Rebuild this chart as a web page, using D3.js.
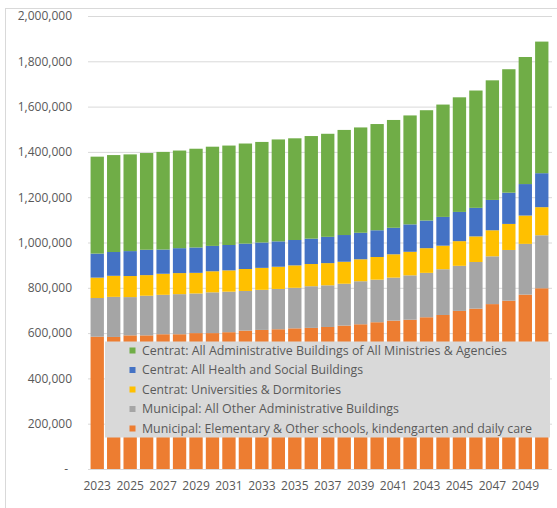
<!DOCTYPE html>
<html>
<head>
<meta charset="utf-8">
<script src="https://cdn.jsdelivr.net/npm/d3@7"></script>
<style>
  body { margin: 0; background: #fff; }
  svg { display: block; }
  text { font-family: "Open Sans", "Noto Sans", sans-serif; fill: #595959; }
</style>
</head>
<body>
<svg id="chart" width="557" height="508"></svg>
<script>
// Floor area per building group, 2023–2050 (m²)
const years = [2023, 2024, 2025, 2026, 2027, 2028, 2029, 2030, 2031, 2032, 2033, 2034, 2035, 2036,
               2037, 2038, 2039, 2040, 2041, 2042, 2043, 2044, 2045, 2046, 2047, 2048, 2049, 2050];

const municipalSchools = [584000, 583000, 590000, 590000, 595000, 595000, 600000, 600000, 604000, 611000,
                          614000, 617000, 621000, 623000, 627000, 633000, 639000, 648000, 655000, 659000,
                          670000, 680000, 698000, 708000, 728000, 743000, 770000, 798000];
const municipalAdmin = [171000, 177000, 169000, 175000, 174000, 177000, 175000, 180000, 179000, 175000,
                        177000, 178000, 179000, 184000, 184000, 185000, 190000, 188000, 190000, 196000,
                        196000, 202000, 199000, 206000, 211000, 224000, 224000, 234000];
const centralUniversities = [90000, 93000, 93000, 91000, 93000, 93000, 91000, 93000, 94000, 97000,
                             97000, 98000, 99000, 98000, 98000, 97000, 97000, 100000, 103000, 104000,
                             109000, 104000, 109000, 113000, 115000, 115000, 125000, 124000];
const centralHealth = [106000, 105000, 110000, 112000, 107000, 110000, 112000, 112000, 112000, 112000,
                       112000, 112000, 112000, 112000, 116000, 118000, 117000, 118000, 117000, 121000,
                       122000, 127000, 129000, 126000, 134000, 138000, 139000, 150000];
const centralAdmin = [428000, 428000, 427000, 427000, 431000, 431000, 436000, 438000, 439000, 442000,
                      444000, 450000, 449000, 453000, 455000, 464000, 465000, 469000, 476000, 481000,
                      487000, 496000, 506000, 518000, 528000, 545000, 561000, 581000];

const yTicks = [0, 200000, 400000, 600000, 800000, 1000000, 1200000, 1400000, 1600000, 1800000, 2000000];
const xTickYears = [2023, 2025, 2027, 2029, 2031, 2033, 2035, 2037, 2039, 2041, 2043, 2045, 2047, 2049];

// Series from bottom of the stack to the top
const seriesKeys = ["municipalSchools", "municipalAdmin", "centralUniversities", "centralHealth", "centralAdmin"];
const seriesLabels = {
  centralAdmin: "Centrat: All Administrative Buildings of All Ministries & Agencies",
  centralHealth: "Centrat: All Health and Social Buildings",
  centralUniversities: "Centrat: Universities & Dormitories",
  municipalAdmin: "Municipal: All Other Administrative Buildings",
  municipalSchools: "Municipal: Elementary & Other schools, kindengarten and daily care"
};
const seriesColors = {
  municipalSchools: "#ED7D31",
  municipalAdmin: "#A5A5A5",
  centralUniversities: "#FFC000",
  centralHealth: "#4472C4",
  centralAdmin: "#70AD47"
};
const legendOrder = ["centralAdmin", "centralHealth", "centralUniversities", "municipalAdmin", "municipalSchools"];
const legendWidths = { centralAdmin: 365, centralHealth: 221, centralUniversities: 199, municipalAdmin: 257, municipalSchools: 390 };

const table = years.map((yr, i) => ({
  year: yr,
  municipalSchools: municipalSchools[i],
  municipalAdmin: municipalAdmin[i],
  centralUniversities: centralUniversities[i],
  centralHealth: centralHealth[i],
  centralAdmin: centralAdmin[i]
}));

const svg = d3.select("#chart");

// outer chart frame
svg.append("rect")
  .attr("x", 5.5).attr("y", 8.5).attr("width", 560).attr("height", 520)
  .attr("fill", "none").attr("stroke", "#d9d9d9");

const plot = { left: 89, right: 550, top: 16, bottom: 469 };

const x = d3.scaleBand()
  .domain(years)
  .range([plot.left, plot.right])
  .paddingInner(0.19)
  .paddingOuter(0.095);

const y = d3.scaleLinear()
  .domain([0, 2000000])
  .range([plot.bottom, plot.top]);

// horizontal gridlines
svg.append("g")
  .attr("transform", `translate(${plot.left - 1},0)`)
  .call(d3.axisLeft(y).tickValues(yTicks).tickSize(-(552 - plot.left + 1)).tickFormat(""))
  .call(g => g.select(".domain").remove())
  .call(g => g.selectAll("line").attr("stroke", "#d9d9d9").attr("stroke-width", 1));

// y-axis labels
svg.append("g")
  .attr("transform", `translate(${plot.left - 1},0)`)
  .call(d3.axisLeft(y).tickValues(yTicks).tickSize(0).tickPadding(16)
    .tickFormat(v => v === 0 ? "-" : d3.format(",")(v)))
  .call(g => g.select(".domain").remove())
  .call(g => g.selectAll("text").attr("font-size", 12).attr("fill", "#595959"))
  .call(g => g.selectAll(".tick").filter(d => d === 0).select("text").attr("dx", -4));

// stacked bars
const stacked = d3.stack().keys(seriesKeys)(table);

svg.append("g")
  .selectAll("g")
  .data(stacked)
  .join("g")
  .attr("fill", s => seriesColors[s.key])
  .selectAll("rect")
  .data(s => s)
  .join("rect")
  .attr("x", d => x(d.data.year))
  .attr("width", x.bandwidth())
  .attr("y", d => y(d[1]))
  .attr("height", d => y(d[0]) - y(d[1]));

// x-axis labels
svg.append("g")
  .attr("transform", `translate(0,${plot.bottom})`)
  .call(d3.axisBottom(x).tickValues(xTickYears).tickSize(0).tickPadding(12))
  .call(g => g.select(".domain").remove())
  .call(g => g.selectAll("text").attr("font-size", 12).attr("fill", "#595959"));

// legend panel laid over the plot
const legend = svg.append("g");
legend.append("rect")
  .attr("x", 105).attr("y", 341.5).attr("width", 445).attr("height", 96)
  .attr("fill", "#d9d9d9");

const rowY = d3.scalePoint().domain(legendOrder).range([350.5, 428.5]);

const item = legend.selectAll("g.item")
  .data(legendOrder)
  .join("g")
  .attr("class", "item")
  .attr("transform", k => `translate(0,${rowY(k)})`);

item.append("rect")
  .attr("x", 129.5).attr("y", -3).attr("width", 6).attr("height", 6)
  .attr("fill", k => seriesColors[k]);

item.append("text")
  .attr("x", 142).attr("y", 0).attr("dy", "0.35em")
  .attr("font-size", 12)
  .attr("fill", "#595959")
  .attr("textLength", k => legendWidths[k])
  .attr("lengthAdjust", "spacingAndGlyphs")
  .text(k => seriesLabels[k]);
</script>
</body>
</html>
